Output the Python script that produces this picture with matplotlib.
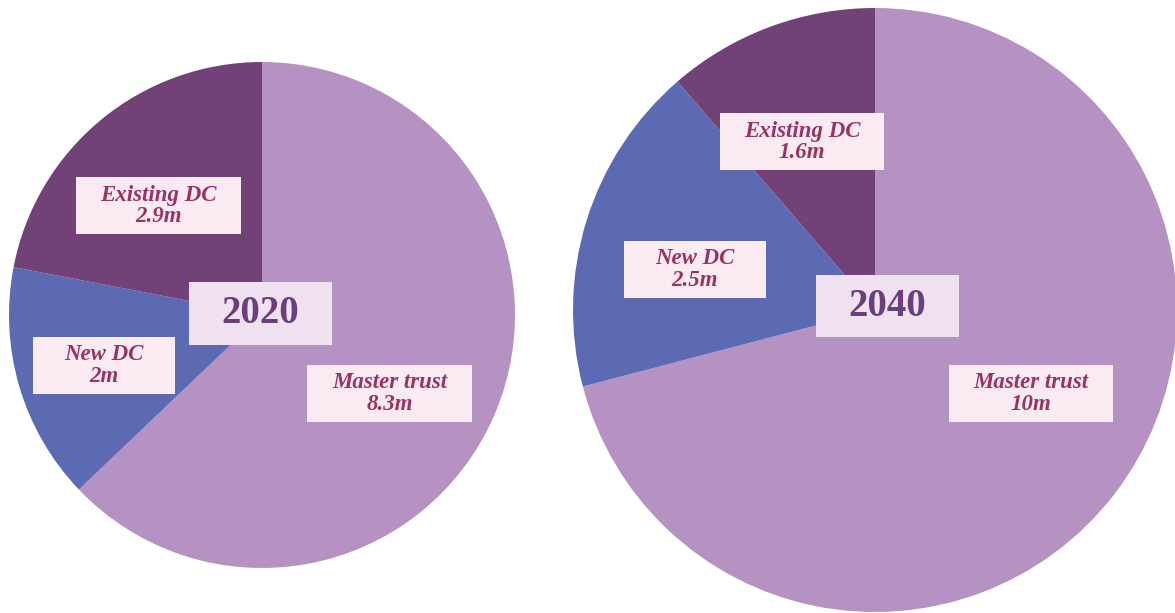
import matplotlib
matplotlib.use('Agg')
import matplotlib.pyplot as plt
from matplotlib.patches import Rectangle

plt.rcParams['font.family'] = ['Liberation Serif', 'DejaVu Serif']

categories = ['Master trust', 'New DC', 'Existing DC']
values_2020 = [8.3, 2, 2.9]
values_2040 = [10, 2.5, 1.6]
value_labels_2020 = ['8.3m', '2m', '2.9m']
value_labels_2040 = ['10m', '2.5m', '1.6m']
years = ['2020', '2040']

colors = ['#b592c2', '#5b6ab3', '#714177']
label_box = '#faebf3'
label_color = '#993366'
year_box = '#efe1f0'
year_color = '#6b3f7a'

W, H = 1175, 613
fig = plt.figure(figsize=(W / 100, H / 100), dpi=100)
ax = fig.add_axes([0, 0, 1, 1])

# pie centres / radii in pixel units (y measured from top)
pies = [
    dict(vals=values_2020, labs=value_labels_2020, year=years[0],
         center=(262, 315), r=253,
         year_box=(189, 282, 143, 63),
         boxes=[(307, 365, 165, 57), (33, 337, 142, 57), (76, 177, 165, 57)]),
    dict(vals=values_2040, labs=value_labels_2040, year=years[1],
         center=(875, 310), r=302,
         year_box=(816, 275, 143, 62),
         boxes=[(949, 365, 164, 57), (624, 241, 142, 57), (720, 113, 164, 57)]),
]

for p in pies:
    cx, cy = p['center']
    ax.pie(p['vals'], colors=colors, startangle=90, counterclock=False,
           center=(cx, H - cy), radius=p['r'], frame=True,
           wedgeprops=dict(linewidth=0))
    for (x, y, w, h), cat, lab in zip(p['boxes'], categories, p['labs']):
        ax.add_patch(Rectangle((x, H - y - h), w, h, facecolor=label_box,
                               edgecolor='none', zorder=3))
        ax.text(x + w / 2, H - y - h / 2, f'{cat}\n{lab}', ha='center',
                va='center', fontsize=16.5, style='italic', fontweight='bold',
                color=label_color, linespacing=1.0, zorder=4)
    x, y, w, h = p['year_box']
    ax.add_patch(Rectangle((x, H - y - h), w, h, facecolor=year_box,
                           edgecolor='none', zorder=3))
    ax.text(x + w / 2, H - y - h / 2, p['year'], ha='center', va='center',
            fontsize=28, fontweight='bold', color=year_color, zorder=4)

ax.set_xlim(0, W)
ax.set_ylim(0, H)
ax.set_aspect('auto')
ax.axis('off')

fig.savefig('out.png', dpi=100, facecolor='white')
